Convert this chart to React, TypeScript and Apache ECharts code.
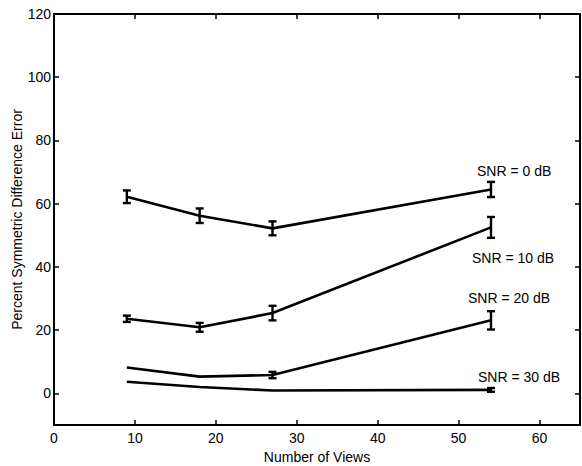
import React, { useEffect, useRef } from "react";
import * as echarts from "echarts";

const views = [9, 18, 27, 54];
const snr0 = [62.2, 56.2, 52.2, 64.5];
const err0 = [2.0, 2.3, 2.2, 2.4];
const snr10 = [23.6, 20.9, 25.4, 52.5];
const err10 = [1.0, 1.4, 2.3, 3.3];
const snr20 = [8.2, 5.3, 5.8, 23.1];
const err20 = [0, 0, 1.0, 2.9];
const snr30 = [3.7, 2.0, 0.9, 1.1];
const err30 = [0, 0, 0, 0.6];
const seriesNames = ["SNR = 0 dB", "SNR = 10 dB", "SNR = 20 dB", "SNR = 30 dB"];
const yTicks = [0, 20, 40, 60, 80, 100, 120];
const xTicks = [0, 10, 20, 30, 40, 50, 60];

const FONT = "Liberation Sans, Arial, Helvetica, sans-serif";

export default function App() {
  const ref = useRef<HTMLDivElement>(null);
  useEffect(() => {
    if (!ref.current) return;
    const chart = echarts.init(ref.current, undefined, { renderer: "svg" });
    const values = [snr0, snr10, snr20, snr30];
    const errs = [err0, err10, err20, err30];

    const lineSeries = values.map((vals, i) => ({
      type: "line",
      name: seriesNames[i],
      data: views.map((x, j) => [x, vals[j]]),
      showSymbol: false,
      symbol: "none",
      lineStyle: { color: "#000", width: 2.6 },
      xAxisIndex: 0,
      yAxisIndex: 0,
      z: 3,
    }));

    const errData: number[][] = [];
    values.forEach((vals, i) => {
      views.forEach((x, j) => {
        if (errs[i][j] > 0) errData.push([x, vals[j], errs[i][j]]);
      });
    });

    const errSeries = {
      type: "custom",
      xAxisIndex: 0,
      yAxisIndex: 0,
      data: errData,
      encode: { x: 0, y: 1 },
      z: 4,
      renderItem: (params: any, api: any) => {
        const x = api.value(0);
        const y = api.value(1);
        const e = api.value(2);
        const top = api.coord([x, y + e]);
        const bot = api.coord([x, y - e]);
        const hw = 4;
        const st = { stroke: "#000", lineWidth: 2.4 };
        return {
          type: "group",
          children: [
            { type: "line", shape: { x1: top[0], y1: top[1], x2: bot[0], y2: bot[1] }, style: st },
            { type: "line", shape: { x1: top[0] - hw, y1: top[1], x2: top[0] + hw, y2: top[1] }, style: st },
            { type: "line", shape: { x1: bot[0] - hw, y1: bot[1], x2: bot[0] + hw, y2: bot[1] }, style: st },
          ],
        };
      },
    };

    const axisLine = { show: true, onZero: false, lineStyle: { color: "#000", width: 2 } };
    const tickStyle = { show: true, inside: true, length: 5, lineStyle: { color: "#000", width: 1.5 } };
    const labelStyle = { color: "#000", fontSize: 14, fontFamily: FONT };

    chart.setOption({
      animation: false,
      grid: { left: 54, top: 14, right: 2, bottom: 41, containLabel: false, outerBoundsMode: "none" },
      xAxis: [
        {
          type: "value",
          min: 0,
          max: 65,
          interval: 5,
          position: "bottom",
          axisLine,
          axisTick: { ...tickStyle, customValues: xTicks },
          axisLabel: { ...labelStyle, margin: 6, customValues: xTicks },
          splitLine: { show: false },
          name: "Number of Views",
          nameLocation: "middle",
          nameGap: 25,
          nameMoveOverlap: false,
          nameTextStyle: { color: "#000", fontSize: 14, fontFamily: FONT },
        },
        {
          type: "value",
          min: 0,
          max: 65,
          interval: 5,
          position: "top",
          axisLine,
          axisTick: { ...tickStyle, customValues: xTicks },
          axisLabel: { show: false },
          splitLine: { show: false },
        },
      ],
      yAxis: [
        {
          type: "value",
          min: -10,
          max: 120,
          interval: 10,
          position: "left",
          axisLine,
          axisTick: { ...tickStyle, customValues: yTicks },
          axisLabel: { ...labelStyle, margin: 3, customValues: yTicks },
          splitLine: { show: false },
          name: "Percent Symmetric Difference Error",
          nameLocation: "middle",
          nameGap: 30,
          nameMoveOverlap: false,
          nameRotate: 90,
          nameTextStyle: { color: "#000", fontSize: 14, fontFamily: FONT },
        },
        {
          type: "value",
          min: -10,
          max: 120,
          interval: 10,
          position: "right",
          axisLine,
          axisTick: { ...tickStyle, customValues: yTicks },
          axisLabel: { show: false },
          splitLine: { show: false },
        },
      ],
      graphic: [
        { type: "text", left: 477, top: 164, style: { text: seriesNames[0], fill: "#000", fontSize: 14, fontFamily: FONT } },
        { type: "text", left: 472, top: 251, style: { text: seriesNames[1], fill: "#000", fontSize: 14, fontFamily: FONT } },
        { type: "text", left: 468, top: 291, style: { text: seriesNames[2], fill: "#000", fontSize: 14, fontFamily: FONT } },
        { type: "text", left: 478, top: 370, style: { text: seriesNames[3], fill: "#000", fontSize: 14, fontFamily: FONT } },
      ],
      series: [...lineSeries, errSeries],
    });
    return () => chart.dispose();
  }, []);
  return <div ref={ref} style={{ width: 582, height: 466, position: "fixed", left: 0, top: 0, background: "#fff" }} />;
}
